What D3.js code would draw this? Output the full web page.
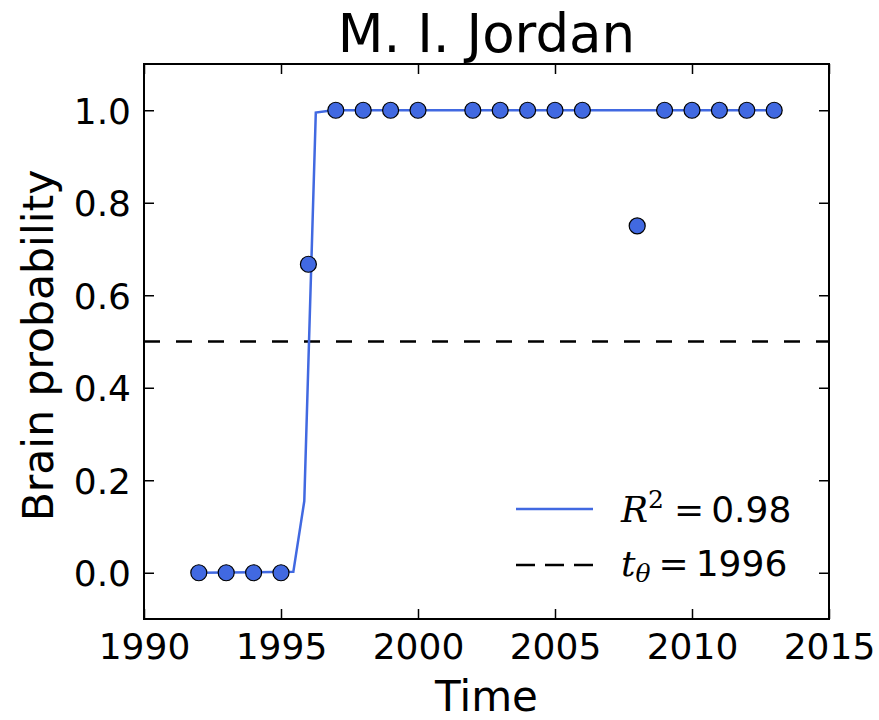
<!DOCTYPE html>
<html>
<head>
<meta charset="utf-8">
<script src="https://cdn.jsdelivr.net/npm/d3@7"></script>
<style>
  html, body { margin: 0; padding: 0; background: #fff; }
  svg { display: block; }
</style>
</head>
<body>
<script>
// Observed yearly brain probability for the author
const years = [1992, 1993, 1994, 1995, 1996, 1997, 1998, 1999, 2000,
               2002, 2003, 2004, 2005, 2006, 2008, 2009, 2010, 2011, 2012, 2013];
const probs = [0, 0, 0, 0, 0.667, 1, 1, 1, 1,
               1, 1, 1, 1, 1, 0.75, 1, 1, 1, 1, 1];

// Fitted step (sigmoid) curve, sampled points
const fitYears = [1992, 1995.45, 1995.85, 1996.27, 1996.9, 2013];
const fitProbs = [0, 0.002, 0.155, 0.995, 1.0, 1.0];

const threshold = 0.5;
const xTicks = [1990, 1995, 2000, 2005, 2010, 2015];
const yTicks = [0.0, 0.2, 0.4, 0.6, 0.8, 1.0];

const W = 879, H = 720;
const m = { left: 144, top: 64, right: 50, bottom: 101 };
const iw = W - m.left - m.right, ih = H - m.top - m.bottom;
const blue = "#4169e1";
const sans = "'DejaVu Sans', sans-serif";
const serif = "'DejaVu Serif', 'Liberation Serif', serif";

const svg = d3.select("body").append("svg").attr("width", W).attr("height", H);
const g = svg.append("g").attr("transform", `translate(${m.left},${m.top})`);

const x = d3.scaleLinear().domain([1990, 2015]).range([0, iw]);
const y = d3.scaleLinear().domain([-0.1, 1.1]).range([ih, 0]);

// Threshold line
g.append("line")
  .attr("x1", 0).attr("x2", iw)
  .attr("y1", y(threshold)).attr("y2", y(threshold))
  .attr("stroke", "#000").attr("stroke-width", 2.5)
  .attr("stroke-dasharray", "16,16");

// Fitted curve
g.append("path")
  .datum(fitYears.map((d, i) => [d, fitProbs[i]]))
  .attr("fill", "none").attr("stroke", blue).attr("stroke-width", 2.5)
  .attr("d", d3.line().x(d => x(d[0])).y(d => y(d[1])));

// Observed points
g.selectAll("circle.pt").data(years.map((d, i) => [d, probs[i]]))
  .join("circle").attr("class", "pt")
  .attr("cx", d => x(d[0])).attr("cy", d => y(d[1])).attr("r", 8)
  .attr("fill", blue).attr("stroke", "#000").attr("stroke-width", 1.2);

// Axes (inward ticks on all four sides)
const tl = 10;
const axB = g.append("g").attr("transform", `translate(0,${ih})`)
  .call(d3.axisBottom(x).tickValues(xTicks).tickFormat(d3.format("d")).tickSize(-tl).tickPadding(14));
const axT = g.append("g")
  .call(d3.axisTop(x).tickValues(xTicks).tickFormat("").tickSize(-tl));
const axL = g.append("g")
  .call(d3.axisLeft(y).tickValues(yTicks).tickFormat(d3.format(".1f")).tickSize(-tl).tickPadding(13));
const axR = g.append("g").attr("transform", `translate(${iw},0)`)
  .call(d3.axisRight(y).tickValues(yTicks).tickFormat("").tickSize(-tl));

[axB, axT, axL, axR].forEach(a => {
  a.select(".domain").remove();
  a.selectAll(".tick line").attr("stroke", "#000").attr("stroke-width", 1.5);
  a.selectAll("text").attr("font-family", sans).attr("font-size", 36).attr("fill", "#000");
});
axL.selectAll("text").attr("dy", "0.36em");

// Frame
g.append("rect").attr("x", 0).attr("y", 0).attr("width", iw).attr("height", ih)
  .attr("fill", "none").attr("stroke", "#000").attr("stroke-width", 2);

// Title and axis labels
svg.append("text").attr("x", m.left + iw / 2).attr("y", 52)
  .attr("text-anchor", "middle").attr("font-family", sans).attr("font-size", 53)
  .text("M. I. Jordan");
svg.append("text").attr("x", m.left + iw / 2).attr("y", 711)
  .attr("text-anchor", "middle").attr("font-family", sans).attr("font-size", 42)
  .text("Time");
svg.append("text").attr("transform", `translate(53,${m.top + ih / 2 + 4}) rotate(-90)`)
  .attr("text-anchor", "middle").attr("font-family", sans).attr("font-size", 42.5)
  .text("Brain probability");

// Legend
const lg = svg.append("g");
lg.append("line").attr("x1", 516).attr("x2", 593).attr("y1", 509).attr("y2", 509)
  .attr("stroke", blue).attr("stroke-width", 2.5);
lg.append("line").attr("x1", 516).attr("x2", 593).attr("y1", 565).attr("y2", 565)
  .attr("stroke", "#000").attr("stroke-width", 2.5).attr("stroke-dasharray", "19,10");

const t1 = lg.append("text").attr("x", 621).attr("y", 522).attr("font-size", 36);
t1.append("tspan").attr("font-family", serif).attr("font-style", "italic").text("R");
t1.append("tspan").attr("font-family", serif).attr("font-size", 25).attr("dy", -14).text("2");
t1.append("tspan").attr("font-family", serif).attr("dy", 14).attr("dx", 10).text("=");
t1.append("tspan").attr("font-family", sans).attr("dx", 7).text("0.98");

const t2 = lg.append("text").attr("x", 621).attr("y", 576).attr("font-size", 36);
t2.append("tspan").attr("font-family", serif).attr("font-style", "italic").text("t");
t2.append("tspan").attr("font-family", serif).attr("font-style", "italic").attr("font-size", 25).attr("dy", 6).text("θ");
t2.append("tspan").attr("font-family", serif).attr("dy", -6).attr("dx", 8).text("=");
t2.append("tspan").attr("font-family", sans).attr("dx", 7).text("1996");
</script>
</body>
</html>
